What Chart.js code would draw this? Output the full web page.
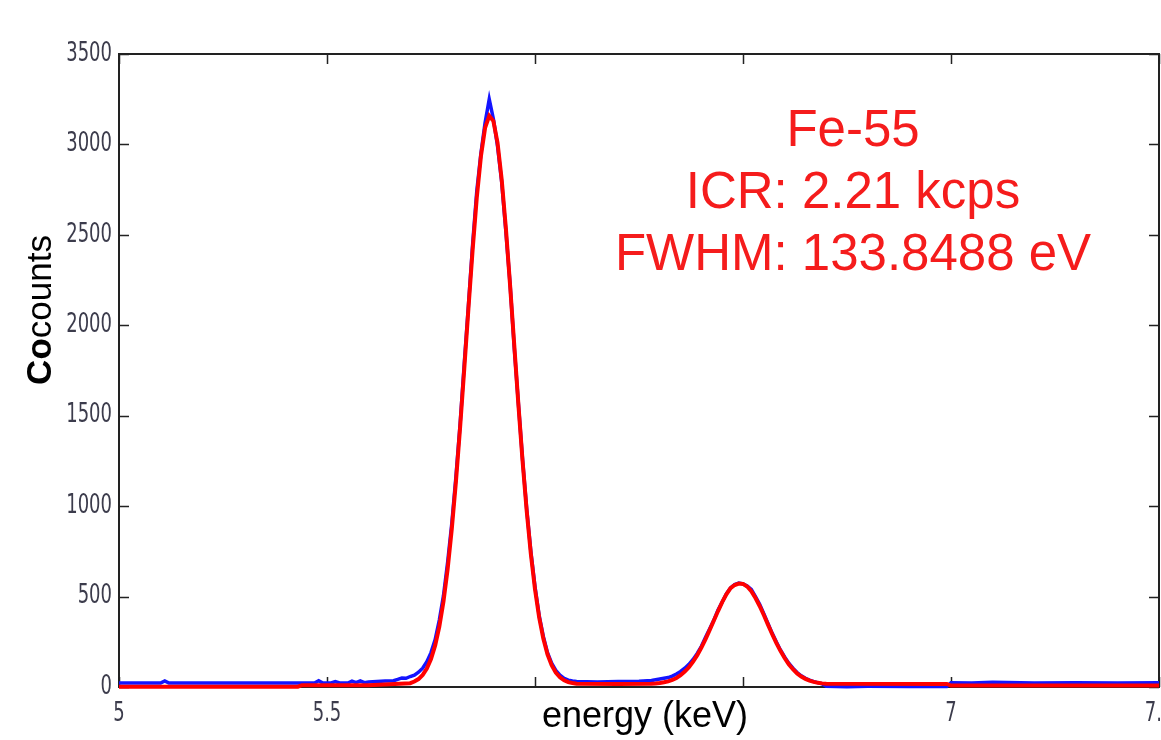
<!DOCTYPE html>
<html><head><meta charset="utf-8">
<script src="https://cdn.jsdelivr.net/npm/chart.js@4"></script>
<style>
html,body{margin:0;padding:0;overflow:hidden;background:#fff;width:1161px;height:740px}
#wrap{position:absolute;left:0;top:0;width:1200px;height:740px}
</style></head>
<body><div id="wrap"><canvas id="c" width="1200" height="740"></canvas></div>
<script>
// measured spectrum (blue)
const measuredEnergy = [5.00,5.10,5.11,5.12,5.43,5.47,5.48,5.49,5.51,5.52,5.53,5.55,5.56,5.57,5.58,5.59,5.60,5.62,5.64,5.66,5.67,5.68,5.69,
 5.70,5.71,5.72,5.73,5.74,5.75,5.76,5.77,5.78,5.79,5.80,5.81,5.82,5.83,5.84,5.85,5.86,5.87,5.88,5.89,
 5.90,5.91,5.92,5.93,5.94,5.95,5.96,5.97,5.98,5.99,6.00,6.01,6.02,6.03,6.04,6.05,6.06,6.07,6.08,6.09,6.10,
 6.15,6.20,6.25,6.28,6.29,6.30,6.31,6.32,6.33,6.34,6.35,6.36,6.37,6.38,6.39,6.40,6.41,6.42,6.43,6.44,6.45,
 6.46,6.47,6.48,6.49,6.50,6.51,6.52,6.53,6.54,6.55,6.56,6.57,6.58,6.59,6.60,6.61,6.62,6.63,6.64,6.65,6.66,
 6.67,6.68,6.69,6.70,6.75,6.80,6.90,6.99,7.00,7.05,7.10,7.20,7.30,7.40,7.50];
const measuredCounts = [22,22,34,22,22,22,35,22,22,30,22,22,32,24,34,24,28,30,33,35,42,50,48,
 58,66,82,104,140,190,262,370,505,690,905,1165,1455,1790,2110,2445,2740,2950,3120,3250,
 3140,2990,2790,2520,2230,1880,1570,1260,985,750,555,395,280,190,132,92,66,48,38,33,30,
 28,30,32,36,40,44,48,52,60,72,86,104,125,152,186,225,275,322,370,426,470,
 515,548,566,575,570,558,540,500,458,405,352,298,250,205,166,132,104,80,62,48,38,
 30,24,18,4,2,4,3,3,24,22,26,22,24,22,24];
// fitted curve (red)
const fitEnergy = [5.00,5.43,5.44,5.60,5.70,5.71,5.72,5.73,5.74,5.75,5.76,5.77,5.78,5.79,5.80,5.81,5.82,5.83,5.84,
 5.85,5.86,5.87,5.88,5.89,5.90,5.91,5.92,5.93,5.94,5.95,5.96,5.97,5.98,5.99,6.00,6.01,6.02,6.03,6.04,6.05,
 6.06,6.07,6.08,6.09,6.10,6.20,6.28,6.29,6.30,6.31,6.32,6.33,6.34,6.35,6.36,6.37,6.38,6.39,6.40,6.41,6.42,
 6.43,6.44,6.45,6.46,6.47,6.48,6.49,6.50,6.51,6.52,6.53,6.54,6.55,6.56,6.57,6.58,6.59,6.60,6.61,6.62,6.63,
 6.64,6.65,6.66,6.67,6.68,6.69,6.70,6.99,7.00,7.50];
const fitCounts = [2,2,10,10,21,30,44,67,102,155,230,334,473,652,875,1137,1437,1760,2094,
 2416,2704,2935,3091,3158,3129,3008,2804,2536,2225,1894,1564,1253,975,736,540,385,268,181,121,80,
 54,37,27,22,18,16,18,19,22,26,31,39,50,65,85,109,140,176,218,265,316,
 368,420,469,512,546,564,572,570,556,530,492,448,398,345,293,244,200,160,126,98,75,
 58,45,35,28,23,20,18,17,8,8];
const xTicks = [5,5.5,6,6.5,7,7.5];
const yTicks = [0,500,1000,1500,2000,2500,3000,3500];
const annotationLines = ["Fe-55","ICR: 2.21 kcps","FWHM: 133.8488 eV"];
const xTitle = "energy (keV)";
const yTitleBold = "Co", yTitleRest = "counts";

const toPts = (xs, ys) => xs.map((x,i)=>({x:x,y:ys[i]}));
const SANS = "'Liberation Sans', Arial, sans-serif";
const TICKFONT = "20px 'DejaVu Sans Condensed','Liberation Sans',sans-serif";

function stretchedText(ctx, text, x, y, align){
  ctx.save();
  ctx.translate(x, y);
  ctx.scale(1.0, 1.3);
  ctx.textAlign = align;
  ctx.textBaseline = 'middle';
  ctx.fillText(text, 0, 0);
  ctx.restore();
}

const decor = {
  id:'decor',
  beforeDatasetsDraw(chart){
    const {ctx, chartArea:a, scales:{x,y}} = chart;
    ctx.save();
    ctx.strokeStyle = '#222';
    ctx.lineWidth = 2;
    ctx.strokeRect(a.left, a.top, a.right-a.left, a.bottom-a.top);
    ctx.lineWidth = 1.5;
    const L = 10;
    ctx.beginPath();
    xTicks.forEach(v=>{
      const px = Math.round(x.getPixelForValue(v))+0.5;
      ctx.moveTo(px, a.bottom); ctx.lineTo(px, a.bottom-L);
      ctx.moveTo(px, a.top); ctx.lineTo(px, a.top+L);
    });
    yTicks.forEach(v=>{
      const py = Math.round(y.getPixelForValue(v))+0.5;
      ctx.moveTo(a.left, py); ctx.lineTo(a.left+L, py);
      ctx.moveTo(a.right, py); ctx.lineTo(a.right-L, py);
    });
    ctx.stroke();
    ctx.restore();
  },
  afterDraw(chart){
    const {ctx, chartArea:a, scales:{x,y}} = chart;
    ctx.save();
    // tick labels
    ctx.fillStyle = '#3c3c4c';
    ctx.font = TICKFONT;
    yTicks.forEach(v=>stretchedText(ctx, String(v), a.left-7, y.getPixelForValue(v), 'right'));
    xTicks.forEach(v=>stretchedText(ctx, String(v), x.getPixelForValue(v), a.bottom+27, 'center'));
    // x title with white box
    ctx.font = "36px " + SANS;
    const tw = ctx.measureText(xTitle).width;
    const cx = (a.left + a.right)/2 + 6;
    ctx.fillStyle = '#fff';
    ctx.fillRect(cx - tw/2 - 12, a.bottom + 4, tw + 24, 60);
    ctx.fillStyle = '#000';
    ctx.textAlign = 'center';
    ctx.textBaseline = 'alphabetic';
    ctx.fillText(xTitle, cx, 727);
    // annotations
    ctx.fillStyle = '#f51c1c';
    ctx.font = "51px " + SANS;
    const baselines = [146,208,270];
    annotationLines.forEach((t,i)=>ctx.fillText(t, 853, baselines[i]));
    // y title with bold prefix
    ctx.fillStyle = '#000';
    const fb = "bold 35px " + SANS;
    const fr = "35px " + SANS;
    ctx.font = fb; const wb = ctx.measureText(yTitleBold).width;
    ctx.font = fr; const wr = ctx.measureText(yTitleRest).width;
    const total = wb + wr;
    ctx.translate(51, 310);
    ctx.rotate(-Math.PI/2);
    ctx.textAlign = 'left';
    ctx.font = fb; ctx.fillText(yTitleBold, -total/2, 0);
    ctx.font = fr; ctx.fillText(yTitleRest, -total/2 + wb, 0);
    ctx.restore();
  }
};

new Chart(document.getElementById('c'), {
  type:'line',
  data:{datasets:[
    {label:'fit', data:toPts(fitEnergy, fitCounts), borderColor:'#ff0000', borderWidth:4,
     pointRadius:0, tension:0, clip:8},
    {label:'measured', data:toPts(measuredEnergy, measuredCounts), borderColor:'#1414ff', borderWidth:3.5,
     pointRadius:0, tension:0, clip:8}
  ]},
  options:{
    responsive:false, animation:false, devicePixelRatio:1,
    layout:{padding:{top:54,right:41,bottom:0,left:0}},
    plugins:{legend:{display:false}, tooltip:{enabled:false}},
    scales:{
      x:{type:'linear', min:5, max:7.5,
        afterBuildTicks(s){ s.ticks = xTicks.map(v=>({value:v})); },
        afterFit(s){ s.height = 53; },
        grid:{display:false, drawTicks:false}, border:{display:false},
        ticks:{display:false}
      },
      y:{type:'linear', min:0, max:3500,
        afterBuildTicks(s){ s.ticks = yTicks.map(v=>({value:v})); },
        afterFit(s){ s.width = 119; },
        grid:{display:false, drawTicks:false}, border:{display:false},
        ticks:{display:false}
      }
    }
  },
  plugins:[decor]
});
</script>
</body></html>
